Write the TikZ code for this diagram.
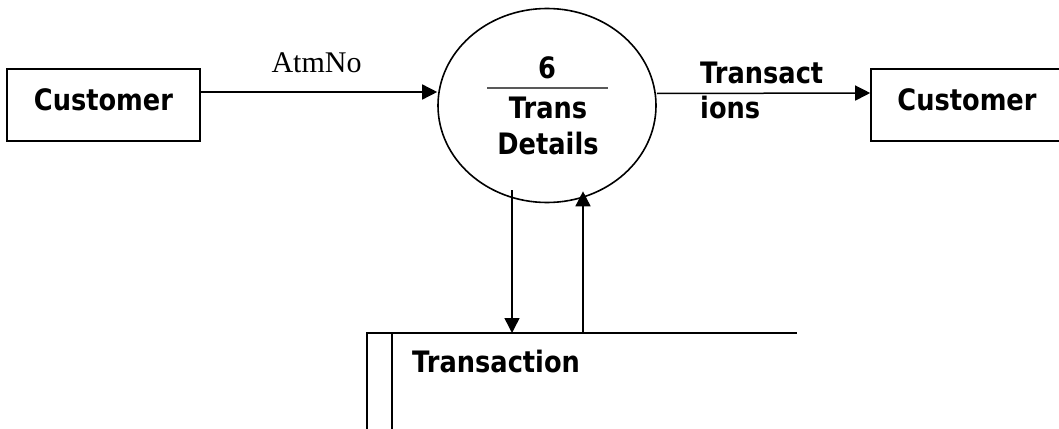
\documentclass[tikz,border=0pt]{standalone}
\usepackage{fontspec}
\setmainfont{Liberation Serif}
\newfontfamily\dfdfont{DejaVu Sans}[FakeStretch=0.87]
\usetikzlibrary{arrows.meta,shapes.geometric}
\tikzset{
  ent/.style={draw, line width=1.6pt, rectangle, minimum width=193pt, minimum height=72pt, inner sep=0pt,
    font=\dfdfont\bfseries\fontsize{29.5}{35}\selectfont, text height=22pt, text depth=12pt},
  proc/.style={draw, line width=1.6pt, ellipse, minimum width=218pt, minimum height=194pt, inner sep=0pt},
  lbl/.style={font=\dfdfont\bfseries\fontsize{29.5}{35}\selectfont, inner sep=0pt},
  serif/.style={font=\fontsize{30}{35}\selectfont, inner sep=0pt},
  flow/.style={line width=1.5pt, -{Triangle[length=15pt,width=15pt]}},
  storeline/.style={line width=1.6pt},
}
\begin{document}
\begin{tikzpicture}[x=1pt,y=-1pt]
\useasboundingbox (0,0) rectangle (1059,428);
% external entities
\node[ent] (c1) at (103.5,105) {Customer};
\node[ent, minimum width=192pt] (c2) at (967,105) {Customer};
% process
\node[proc] (p6) at (547,105.5) {};
\node[lbl, anchor=base] (p6num) at (547,78) {6};
\draw[line width=2.2pt, black!65] ([xshift=-60pt,yshift=17.5pt]p6.center) coordinate (dl) -- ([xshift=61pt,yshift=17.5pt]p6.center) coordinate (dr);
\node[lbl, anchor=base] (p6a) at (548,118) {Trans};
\node[lbl, anchor=base] (p6b) at (548,154) {Details};
% data store
\node[anchor=north west, minimum width=430pt, minimum height=120pt, inner sep=0pt] (ds) at (367,333) {};
\draw[storeline] (ds.south west) -- (ds.north west) -- (ds.north east);
\draw[storeline] ([xshift=25pt]ds.north west) -- ([xshift=25pt]ds.south west);
\node[lbl, anchor=base west] (dst) at (412,372) {Transaction};
% flows
\draw[flow] ([yshift=13pt]c1.east) -- ([yshift=13pt]c1.east -| p6.west);
\node[serif, anchor=base] (atm) at (316.5,73) {AtmNo};
\draw[flow] ([yshift=12pt]p6.east) -- ([yshift=12pt]c2.west);
\node[lbl, anchor=base west] (tr1) at (700,83) {Transact};
\node[lbl, anchor=base west] (tr2) at (700,118) {ions};
\draw[flow] ([xshift=-35pt,yshift=13pt]p6.south) -- ([xshift=-35pt]p6.south |- ds.north);
\draw[flow] ([xshift=36pt]p6.south |- ds.north) -- ([xshift=36pt,yshift=12pt]p6.south);
\end{tikzpicture}
\end{document}
